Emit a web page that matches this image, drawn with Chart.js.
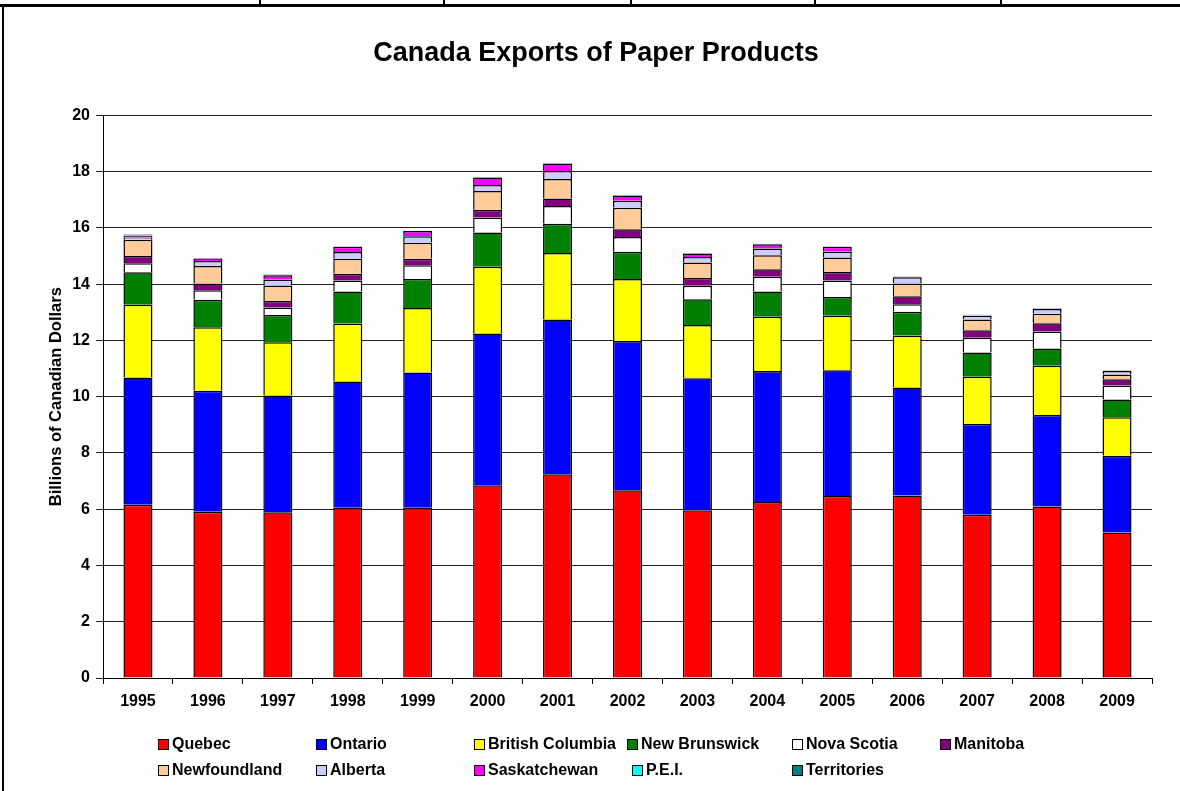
<!DOCTYPE html>
<html>
<head>
<meta charset="utf-8">
<script src="https://cdn.jsdelivr.net/npm/chart.js@4/dist/chart.umd.min.js"></script>
<style>
  body { margin: 0; background: #fff; }
  #wrap { position: relative; width: 1180px; height: 791px; overflow: hidden; font-family: "Liberation Sans", Arial, sans-serif; }
  #myChart { position: absolute; left: 0; top: 0; }
  .rule { position: absolute; background: #000; }
  .leg { position: absolute; font-weight: bold; font-size: 16px; color: #000; white-space: nowrap; line-height: 18px; }
  .leg span { display: inline-block; width: 9px; height: 9px; border: 1px solid #000; margin-right: 3px; vertical-align: -1px; }
</style>
</head>
<body>
<div id="wrap">
  <canvas id="myChart" width="1180" height="791"></canvas>
  <!-- sheet lines around the chart -->
  <div class="rule" style="left:0;top:4px;width:1180px;height:3px;"></div>
  <div class="rule" style="left:2px;top:4px;width:2px;height:787px;"></div>
  <div class="rule" style="left:259px;top:0;width:2px;height:5px;"></div>
  <div class="rule" style="left:443px;top:0;width:2px;height:5px;"></div>
  <div class="rule" style="left:630px;top:0;width:2px;height:5px;"></div>
  <div class="rule" style="left:814px;top:0;width:2px;height:5px;"></div>
  <div class="rule" style="left:1000px;top:0;width:2px;height:5px;"></div>
  <div id="legend"></div>
</div>
<script>
const years = ["1995", "1996", "1997", "1998", "1999", "2000", "2001", "2002", "2003", "2004", "2005", "2006", "2007", "2008", "2009"];

// billions of canadian dollars
const quebec = [6.16, 5.91, 5.89, 6.05, 6.05, 6.85, 7.24, 6.67, 5.96, 6.26, 6.47, 6.49, 5.80, 6.10, 5.17];
const ontario = [4.52, 4.30, 4.15, 4.49, 4.81, 5.40, 5.50, 5.31, 4.70, 4.65, 4.47, 3.84, 3.23, 3.25, 2.73];
const britishColumbia = [2.59, 2.26, 1.90, 2.06, 2.29, 2.37, 2.37, 2.20, 1.89, 1.93, 1.94, 1.85, 1.68, 1.75, 1.37];
const newBrunswick = [1.15, 0.98, 0.96, 1.14, 1.03, 1.22, 1.04, 0.97, 0.91, 0.90, 0.66, 0.84, 0.86, 0.61, 0.63];
const novaScotia = [0.32, 0.33, 0.27, 0.39, 0.49, 0.53, 0.63, 0.53, 0.48, 0.52, 0.59, 0.27, 0.53, 0.61, 0.50];
const manitoba = [0.26, 0.24, 0.23, 0.24, 0.23, 0.28, 0.27, 0.27, 0.28, 0.27, 0.30, 0.28, 0.26, 0.29, 0.22];
const newfoundland = [0.58, 0.63, 0.55, 0.53, 0.57, 0.66, 0.69, 0.77, 0.55, 0.50, 0.52, 0.45, 0.38, 0.34, 0.17];
const alberta = [0.08, 0.17, 0.22, 0.24, 0.23, 0.22, 0.28, 0.25, 0.20, 0.24, 0.21, 0.23, 0.14, 0.17, 0.12];
const saskatchewan = [0.06, 0.09, 0.15, 0.19, 0.19, 0.26, 0.27, 0.18, 0.12, 0.15, 0.17, 0.01, 0.01, 0.01, 0.01];
const pei = [0.01, 0.01, 0.01, 0.01, 0.01, 0.01, 0.01, 0.01, 0.01, 0.01, 0.01, 0.01, 0.01, 0.01, 0.01];
const territories = [0.04, 0.01, 0.01, 0.01, 0.01, 0.01, 0.01, 0.01, 0.01, 0.01, 0.01, 0.01, 0.01, 0.01, 0.01];

const yTicks = [0, 2, 4, 6, 8, 10, 12, 14, 16, 18, 20];

const FONT = "'Liberation Sans', Arial, sans-serif";

const series = [
  { label: "Quebec", data: quebec, color: "#FF0000" },
  { label: "Ontario", data: ontario, color: "#0000FF" },
  { label: "British Columbia", data: britishColumbia, color: "#FFFF00" },
  { label: "New Brunswick", data: newBrunswick, color: "#008000" },
  { label: "Nova Scotia", data: novaScotia, color: "#FFFFFF" },
  { label: "Manitoba", data: manitoba, color: "#800080" },
  { label: "Newfoundland", data: newfoundland, color: "#FFCC99" },
  { label: "Alberta", data: alberta, color: "#CCCCFF" },
  { label: "Saskatchewan", data: saskatchewan, color: "#FF00FF" },
  { label: "P.E.I.", data: pei, color: "#00FFFF" },
  { label: "Territories", data: territories, color: "#008080" },
];

// legend spots (left, top) in the same order as the series
const legendPos = [
  [158, 735], [316, 735], [474, 735], [627, 735], [792, 735], [940, 735],
  [158, 761], [316, 761], [474, 761], [632, 761], [792, 761],
];

const legendBox = document.getElementById("legend");
series.forEach((s, i) => {
  const item = document.createElement("div");
  item.className = "leg";
  item.style.left = legendPos[i][0] + "px";
  item.style.top = legendPos[i][1] + "px";
  item.innerHTML = '<span style="background:' + s.color + '"></span>' + s.label;
  legendBox.appendChild(item);
});

const ctx = document.getElementById("myChart");
const myChart = new Chart(ctx, {
  type: "bar",
  data: {
    labels: years,
    datasets: series.map((s) => ({
      label: s.label,
      data: s.data,
      backgroundColor: s.color,
      borderColor: "#000",
      borderWidth: 1.5,
      categoryPercentage: 1,
      barPercentage: 0.415,
    })),
  },
  options: {
    responsive: false,
    animation: false,
    layout: { padding: { left: 40, right: 28, top: 0, bottom: 0 } },
    plugins: {
      legend: { display: false },
      tooltip: { enabled: false },
      title: {
        display: true,
        text: "Canada Exports of Paper Products",
        color: "#000",
        font: { family: FONT, size: 27, weight: "bold" },
        padding: { top: 37, bottom: 46 },
      },
    },
    scales: {
      x: {
        stacked: true,
        grid: { display: true, offset: true, drawOnChartArea: false, color: "#000", tickLength: 6 },
        border: { color: "#000", width: 1 },
        ticks: { color: "#000", font: { family: FONT, size: 16, weight: "bold" }, padding: 8, maxRotation: 0 },
        afterFit: (scale) => { scale.height = 113; },
      },
      y: {
        stacked: true,
        min: 0,
        max: 20,
        afterBuildTicks: (scale) => { scale.ticks = yTicks.map((v) => ({ value: v })); },
        grid: { color: "#222", tickLength: 7 },
        border: { color: "#000", width: 1 },
        ticks: { color: "#000", font: { family: FONT, size: 16, weight: "bold" }, padding: 6 },
        title: {
          display: true,
          text: "Billions of Canadian Dollars",
          color: "#000",
          font: { family: FONT, size: 16.5, weight: "bold" },
          padding: { top: 7, bottom: 0 },
        },
        afterFit: (scale) => { scale.width = 63; },
      },
    },
  },
});
</script>
</body>
</html>
